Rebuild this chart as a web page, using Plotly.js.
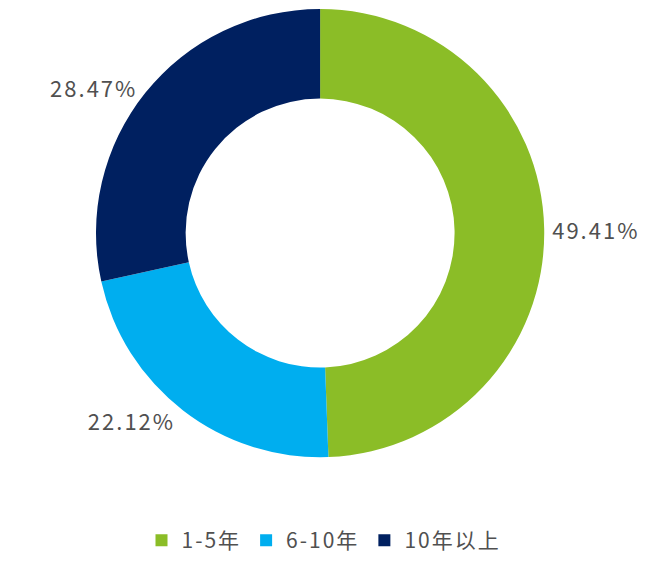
<!DOCTYPE html>
<html>
<head>
<meta charset="utf-8">
<script src="https://cdn.plot.ly/plotly-3.0.1.min.js"></script>
<style>
html,body{margin:0;padding:0;background:#fff;}
#chart{width:648px;height:561px;}
svg text{letter-spacing:2px;}
</style>
</head>
<body>
<div id="chart"></div>
<script>
// tenure groups and their shares (%)
const labels = ['1-5年', '6-10年', '10年以上'];
const shares = [49.41, 22.12, 28.47];
const colors = ['#8BBD27', '#00AEEF', '#002060'];

const trace = {
    type: 'pie',
    labels: labels,
    values: shares,
    hole: 0.6,
    sort: false,
    direction: 'clockwise',
    rotation: 0,
    marker: {colors: colors, line: {width: 0}},
    texttemplate: '%{value:.2f}%',
    textposition: 'outside',
    textfont: {size: 22, color: '#505050'},
    hoverinfo: 'label+value',
    domain: {x: [0.148, 0.840], y: [0.185, 0.984]}
};

const layout = {
    width: 648,
    height: 561,
    margin: {l: 0, r: 0, t: 0, b: 0},
    paper_bgcolor: '#ffffff',
    font: {family: '"Noto Sans CJK SC", "Noto Sans", sans-serif', color: '#505050'},
    showlegend: true,
    legend: {
        orientation: 'h',
        x: 0.5, xanchor: 'center',
        y: 0, yanchor: 'bottom',
        font: {size: 21, color: '#505050'},
        itemwidth: 30
    }
};

Plotly.newPlot('chart', [trace], layout, {displayModeBar: false});
</script>
</body>
</html>
